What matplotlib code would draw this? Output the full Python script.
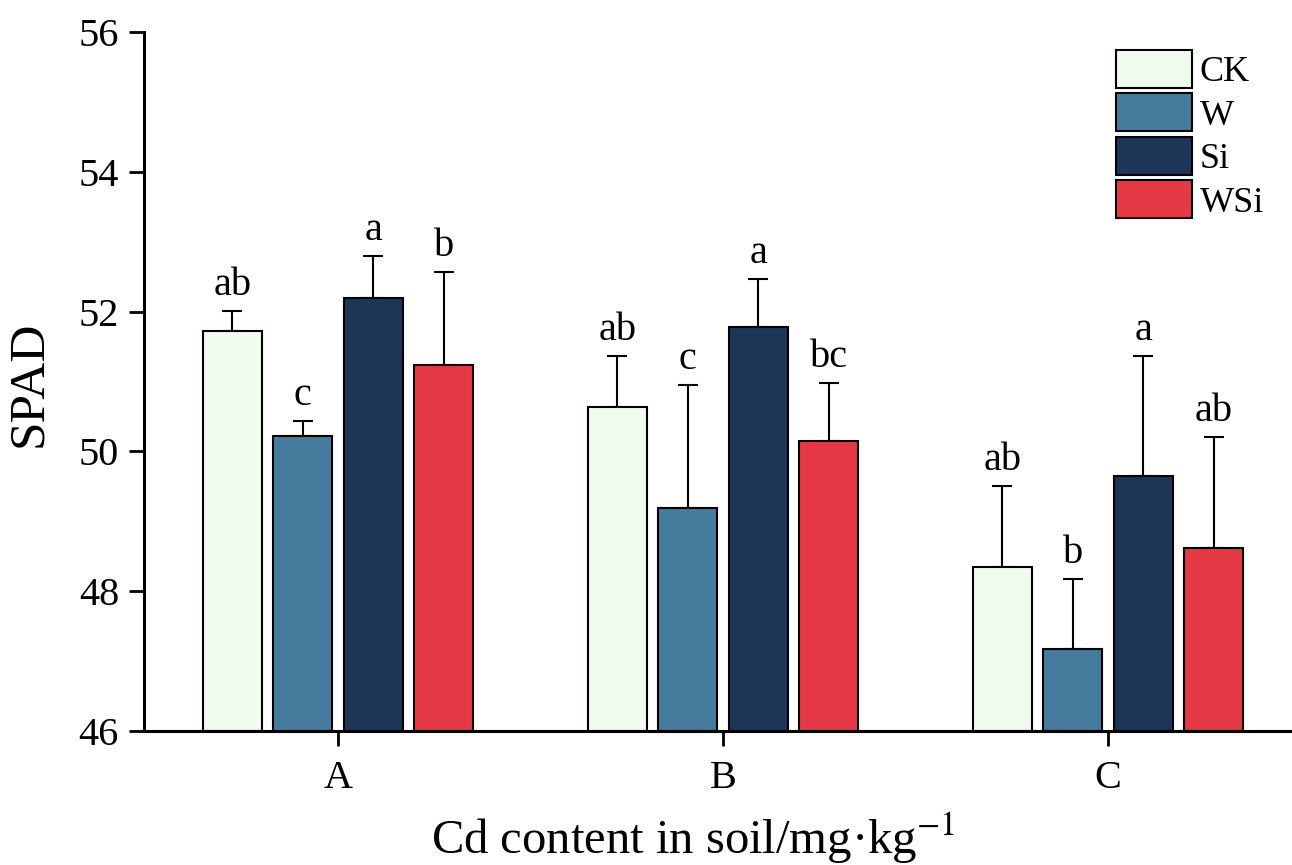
import matplotlib
matplotlib.use("Agg")
import matplotlib.pyplot as plt
import numpy as np

groups = ["A", "B", "C"]
treatments = ["CK", "W", "Si", "WSi"]
means = {
    "CK":  [51.72, 50.64, 48.35],
    "W":   [50.22, 49.19, 47.17],
    "Si":  [52.19, 51.78, 49.65],
    "WSi": [51.24, 50.15, 48.62],
}
errors = {
    "CK":  [0.29, 0.72, 1.16],
    "W":   [0.21, 1.76, 1.00],
    "Si":  [0.61, 0.69, 1.71],
    "WSi": [1.33, 0.83, 1.59],
}
letters = {
    "CK":  ["ab", "ab", "ab"],
    "W":   ["c", "c", "b"],
    "Si":  ["a", "a", "a"],
    "WSi": ["b", "bc", "ab"],
}
colors = {"CK": "#F1FAEE", "W": "#457B9D", "Si": "#1D3557", "WSi": "#E63946"}

plt.rcParams['font.family'] = ['Liberation Serif', 'DejaVu Serif']
plt.rcParams['mathtext.fontset'] = 'stix'

fig = plt.figure(figsize=(12.92, 8.65), dpi=100)
ax = fig.add_axes([144/1292, 1-731/865, 1-144/1292, (731-32)/865])

x = np.arange(len(groups))
step = 0.183
width = 0.153
offsets = (np.arange(len(treatments)) - 1.5) * step

for i, t in enumerate(treatments):
    pos = x + offsets[i]
    ax.bar(pos, np.array(means[t]) - 46, bottom=46, width=width, color=colors[t],
           edgecolor='black', linewidth=1.5, label=t, zorder=2)
    ax.errorbar(pos, means[t], yerr=[np.zeros(3), errors[t]], fmt='none',
                ecolor='black', elinewidth=1.5, capsize=7, capthick=1.5, zorder=1)
    for p, m, e, l in zip(pos, means[t], errors[t], letters[t]):
        ax.text(p, m + e + 0.1, l, ha='center', va='bottom', fontsize=29)

ax.set_ylim(46, 56)
ax.set_yticks(np.arange(46, 57, 2))
ax.set_xlim(-0.504, 2.478)
ax.set_xticks(x)
ax.set_xticklabels(groups)
ax.tick_params(axis='both', labelsize=29, width=2, length=11, direction='out')
ax.tick_params(axis='y', pad=7)
ax.tick_params(axis='x', pad=10)
for s in ['top', 'right']:
    ax.spines[s].set_visible(False)
for s in ['left', 'bottom']:
    ax.spines[s].set_linewidth(2.2)

ax.set_ylabel("SPAD", fontsize=37)
ax.yaxis.set_label_coords(-0.080, 0.497)
ax.set_xlabel("Cd content in soil/mg·kg$^{-1}$", fontsize=35)
ax.xaxis.set_label_coords(0.478, -0.114)

leg = ax.legend(loc='upper left', bbox_to_anchor=(1116/1292, 1-50/865),
                bbox_transform=fig.transFigure, frameon=False, fontsize=26,
                handlelength=2.1, handleheight=1.24, labelspacing=0.12,
                handletextpad=0.22, borderpad=0, borderaxespad=0)

fig.savefig("out.png", dpi=100)
